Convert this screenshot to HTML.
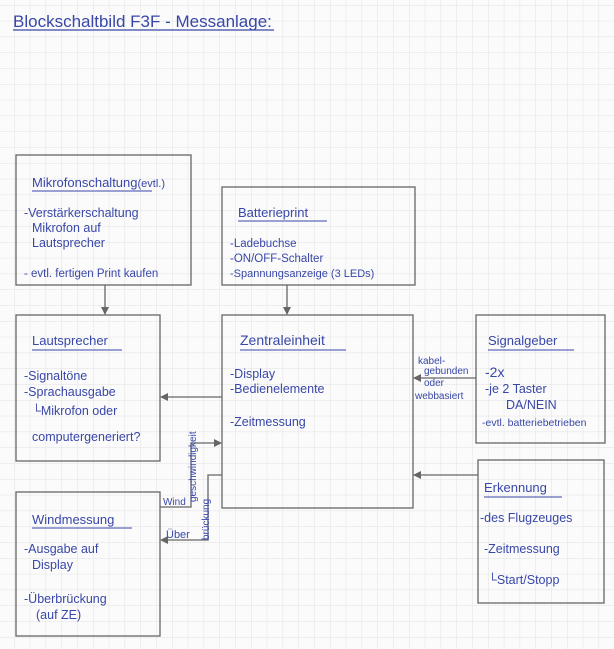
<!DOCTYPE html>
<html><head><meta charset="utf-8"><style>
html,body{margin:0;padding:0;background:#fbfbfb;}
svg{display:block}
text{font-family:"Liberation Sans",sans-serif;fill:#3847a8;}
</style></head><body>
<svg width="614" height="649" viewBox="0 0 614 649" xmlns="http://www.w3.org/2000/svg">
<defs>
<pattern id="g" width="15.8" height="15.8" patternUnits="userSpaceOnUse" x="14" y="5">
<path d="M0 0H15.8M0 0V15.8" stroke="#e2e2e2" stroke-width="1" fill="none"/>
</pattern>
<marker id="a" markerWidth="8" markerHeight="8" refX="7" refY="4" orient="auto" markerUnits="userSpaceOnUse">
<path d="M0 0L8 4L0 8z" fill="#666"/>
</marker>
</defs>
<rect width="614" height="649" fill="#fbfbfb"/>
<rect width="614" height="649" fill="url(#g)"/>

<text x="13" y="27" font-size="17">Blockschaltbild  F3F - Messanlage:</text>
<line x1="13" y1="30" x2="274" y2="30" stroke="#3847a8" stroke-width="1.2"/>

<g fill="none" stroke="#666" stroke-width="1.3">
<rect x="16" y="155" width="175" height="130"/>
<rect x="222" y="187" width="193" height="98"/>
<rect x="16" y="315" width="144" height="146"/>
<rect x="222" y="315" width="191" height="193"/>
<rect x="476" y="315" width="129" height="128"/>
<rect x="478" y="460" width="126" height="143"/>
<rect x="16" y="492" width="144" height="144"/>
<path d="M105 285V314" marker-end="url(#a)"/>
<path d="M287 285V314" marker-end="url(#a)"/>
<path d="M222 397H161" marker-end="url(#a)"/>
<path d="M416 378H416" />
<path d="M476 378H414" marker-end="url(#a)"/>
<path d="M478 475H414" marker-end="url(#a)"/>
<path d="M160 507H191V443H221" marker-end="url(#a)"/>
<path d="M222 475H208V540H161" marker-end="url(#a)"/>
</g>

<g font-size="12.5">
<text x="32" y="187" font-size="13">Mikrofonschaltung<tspan font-size="11">(evtl.)</tspan></text>
<line x1="32" y1="191" x2="152" y2="191" stroke="#3847a8"/>
<text x="24" y="217">-Verstärkerschaltung</text>
<text x="32" y="232">Mikrofon auf</text>
<text x="32" y="247">Lautsprecher</text>
<text x="24" y="277" font-size="11.5">- evtl. fertigen Print kaufen</text>

<text x="238" y="217" font-size="13">Batterieprint</text>
<line x1="238" y1="221" x2="327" y2="221" stroke="#3847a8"/>
<text x="230" y="247" font-size="11.5">-Ladebuchse</text>
<text x="230" y="262" font-size="11.5">-ON/OFF-Schalter</text>
<text x="230" y="277" font-size="11">-Spannungsanzeige (3 LEDs)</text>

<text x="32" y="345" font-size="13">Lautsprecher</text>
<line x1="32" y1="350" x2="122" y2="350" stroke="#3847a8"/>
<text x="24" y="380">-Signaltöne</text>
<text x="24" y="396">-Sprachausgabe</text>
<text x="32" y="415">└Mikrofon oder</text>
<text x="32" y="441">computergeneriert?</text>

<text x="240" y="345" font-size="14">Zentraleinheit</text>
<line x1="240" y1="350" x2="346" y2="350" stroke="#3847a8"/>
<text x="230" y="378">-Display</text>
<text x="230" y="393">-Bedienelemente</text>
<text x="230" y="426">-Zeitmessung</text>

<text x="488" y="345" font-size="13">Signalgeber</text>
<line x1="488" y1="350" x2="574" y2="350" stroke="#3847a8"/>
<text x="485" y="377" font-size="14">-2x</text>
<text x="485" y="393">-je 2 Taster</text>
<text x="506" y="409">DA/NEIN</text>
<text x="482" y="426" font-size="10.5">-evtl. batteriebetrieben</text>

<text x="418" y="364" font-size="10">kabel-</text>
<text x="424" y="374" font-size="10">gebunden</text>
<text x="424" y="386" font-size="10">oder</text>
<text x="415" y="399" font-size="10">webbasiert</text>

<text x="484" y="492" font-size="13">Erkennung</text>
<line x1="484" y1="497" x2="562" y2="497" stroke="#3847a8"/>
<text x="480" y="522">-des Flugzeuges</text>
<text x="484" y="553">-Zeitmessung</text>
<text x="488" y="584">└Start/Stopp</text>

<text x="32" y="524" font-size="13">Windmessung</text>
<line x1="32" y1="528" x2="132" y2="528" stroke="#3847a8"/>
<text x="24" y="553">-Ausgabe auf</text>
<text x="32" y="569">Display</text>
<text x="24" y="603">-Überbrückung</text>
<text x="36" y="619">(auf ZE)</text>

<text x="163" y="505" font-size="10">Wind</text>
<text x="0" y="0" font-size="10" transform="translate(196,502) rotate(-90)">geschwindigkeit</text>
<text x="166" y="538" font-size="11">Über</text>
<text x="0" y="0" font-size="10" transform="translate(209,540) rotate(-90)">brückung</text>
</g>
</svg>
</body></html>
